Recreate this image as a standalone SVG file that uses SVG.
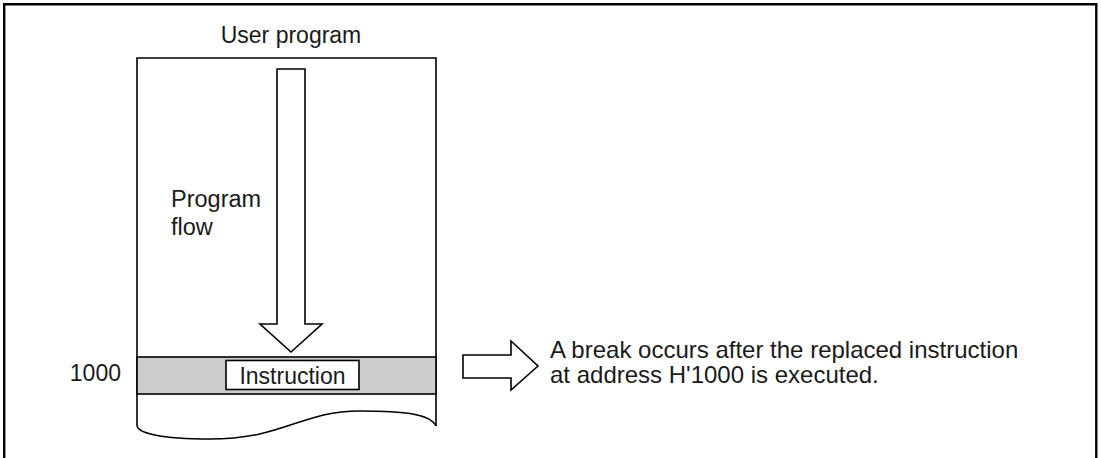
<svg xmlns="http://www.w3.org/2000/svg" width="1101" height="458" viewBox="0 0 1101 458">
<style>
  text { font-family: "Liberation Sans", Arial, sans-serif; font-size: 23px; fill: #1a1a1a; }
  .note { font-size: 24px; }
  .ln { fill: none; stroke: #000; stroke-width: 1.6; stroke-linejoin: miter; }
  .frame { fill: none; stroke: #000; stroke-width: 2.4; }
</style>
<rect width="1101" height="458" fill="#fff"/>
<path class="frame" d="M4.2,458 V4.2 H1096.3 V458"/>
<g id="title"><text x="291" y="43" text-anchor="middle">User program</text></g>
<g id="program">
  <path class="ln" d="M137,425 V58 H436 V426"/>
  <path class="ln" d="M137,425 C137,433 160,439 210,439 C285,439 300,411 360,411 C405,411 430,414 436,426"/>
  <rect x="137" y="357" width="299" height="37" fill="#cccccc" stroke="#000" stroke-width="1.6"/>
</g>
<g id="instruction">
  <rect x="226" y="360.5" width="133" height="29" fill="#fff" stroke="#000" stroke-width="1.6"/>
  <text x="292.5" y="383.5" text-anchor="middle">Instruction</text>
</g>
<g id="address"><text x="121" y="381" text-anchor="end">1000</text></g>
<g id="flow-label">
  <text x="171" y="207" style="font-size:23.5px">Program</text>
  <text x="171" y="235" style="font-size:23.5px">flow</text>
</g>
<g id="connectors">
  <path class="ln" d="M277,69 H305 V324 H322 L291,352 L260,324 H277 Z" style="fill:#fff"/>
  <path class="ln" d="M463,355 H511 V341 L538,366 L511,390 V378 H463 Z" style="fill:#fff"/>
</g>
<g id="note">
  <text class="note" x="550" y="357.5">A break occurs after the replaced instruction</text>
  <text class="note" x="550" y="382.5">at address H'1000 is executed.</text>
</g>
</svg>
